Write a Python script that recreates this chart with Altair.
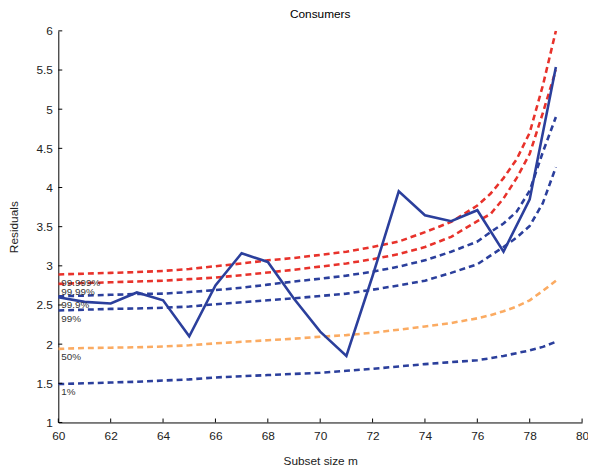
import altair as alt
import pandas as pd

# ---- data ----
m_solid = list(range(60, 80))
residuals = [2.60, 2.54, 2.52, 2.66, 2.56, 2.10, 2.75, 3.16, 3.05, 2.58,
             2.16, 1.85, 2.87, 3.95, 3.645, 3.57, 3.71, 3.18, 3.85, 5.54]

m_band = [60, 61, 62, 63, 64, 65, 66, 67, 68, 69, 70, 71, 72, 73, 74, 75, 76,
          76.5, 77, 77.5, 78, 78.5, 79]
b99999 = [2.89, 2.90, 2.91, 2.92, 2.935, 2.96, 2.995, 3.03, 3.07, 3.10, 3.14, 3.18,
          3.24, 3.31, 3.43, 3.56, 3.77, 3.92, 4.12, 4.36, 4.70, 5.30, 6.0]
b9999 = [2.77, 2.78, 2.79, 2.80, 2.81, 2.83, 2.85, 2.88, 2.915, 2.95, 2.99, 3.03,
         3.085, 3.15, 3.24, 3.37, 3.57, 3.66, 3.86, 4.12, 4.43, 4.95, 5.5]
b999 = [2.61, 2.62, 2.63, 2.64, 2.645, 2.665, 2.69, 2.72, 2.76, 2.80, 2.835, 2.875,
        2.925, 2.99, 3.07, 3.18, 3.31, 3.43, 3.54, 3.69, 3.96, 4.45, 4.9]
b99 = [2.43, 2.44, 2.45, 2.455, 2.465, 2.48, 2.51, 2.535, 2.56, 2.585, 2.615, 2.645,
       2.695, 2.75, 2.81, 2.91, 3.02, 3.13, 3.24, 3.36, 3.51, 3.80, 4.26]
b50 = [1.94, 1.95, 1.955, 1.96, 1.97, 1.985, 2.01, 2.03, 2.05, 2.07, 2.095, 2.115,
       2.145, 2.185, 2.225, 2.27, 2.33, 2.37, 2.42, 2.48, 2.56, 2.68, 2.81]
b1 = [1.49, 1.50, 1.51, 1.52, 1.535, 1.55, 1.575, 1.59, 1.605, 1.62, 1.635, 1.66,
      1.685, 1.715, 1.745, 1.77, 1.795, 1.82, 1.85, 1.885, 1.92, 1.965, 2.03]

band_labels = ["99.999%", "99.99%", "99.9%", "99%", "50%", "1%"]
band_series = [b99999, b9999, b999, b99, b50, b1]
band_colors = ["#e8322b", "#e8322b", "#2b3f9c", "#2b3f9c", "#fbab62", "#2b3f9c"]

x_ticks = list(range(60, 81, 2))
y_ticks = [1, 1.5, 2, 2.5, 3, 3.5, 4, 4.5, 5, 5.5, 6]

# ---- tables ----
band_rows = []
for lab, ser in zip(band_labels, band_series):
    for m, v in zip(m_band, ser):
        band_rows.append({"band": lab, "m": m, "v": v})
band_df = pd.DataFrame(band_rows)
solid_df = pd.DataFrame({"m": m_solid, "v": residuals})
label_df = pd.DataFrame({"band": band_labels, "m": [60] * 6, "v": [s[0] for s in band_series]})
xt_df = pd.DataFrame({"m": x_ticks})
yt_df = pd.DataFrame({"v": y_ticks})

W, H = 531, 397
FONT = "Liberation Sans"

xscale = alt.Scale(domain=[60, 80], nice=False)
yscale = alt.Scale(domain=[1, 6], nice=False)
xaxis = alt.Axis(values=x_ticks, title="Subset size m", format="d", labelFlush=False)
yaxis = alt.Axis(values=y_ticks, title="Residuals", format="~g", labelFlush=False)
X = alt.X("m:Q", scale=xscale, axis=xaxis)
Y = alt.Y("v:Q", scale=yscale, axis=yaxis)

bands = alt.Chart(band_df).mark_line(strokeWidth=2.6, strokeDash=[6, 4], clip=True).encode(
    x=X, y=Y,
    color=alt.Color("band:N", scale=alt.Scale(domain=band_labels, range=band_colors), legend=None),
    detail="band:N",
)

solid = alt.Chart(solid_df).mark_line(strokeWidth=2.6, color="#2b3f9c").encode(x=X, y=Y)

labels = alt.Chart(label_df).mark_text(
    align="left", baseline="middle", dx=3, dy=8.5, fontSize=10, font=FONT, color="#333333"
).encode(x=X, y=Y, text="band:N")

xt = alt.Chart(xt_df).mark_rule(color="black", strokeWidth=1).encode(
    x=X, y=alt.value(H), y2=alt.value(H - 4),
)
yt = alt.Chart(yt_df).mark_rule(color="black", strokeWidth=1).encode(
    y=Y, x=alt.value(0), x2=alt.value(4),
)

chart = alt.layer(bands, solid, labels, xt, yt).properties(
    width=W, height=H,
    title=alt.TitleParams("Consumers", fontSize=12, fontWeight="normal", font=FONT,
                          color="black", offset=4),
    autosize=alt.AutoSizeParams(type="none"),
    padding={"left": 51, "top": 20, "right": 6, "bottom": 45},
).configure_view(stroke=None).configure_axis(
    grid=False, ticks=False, tickSize=0, domainColor="black", domainWidth=1,
    labelFont=FONT, labelFontSize=12, labelColor="#222222",
    titleFont=FONT, titleFontSize=12, titleFontWeight="normal", titleColor="#222222",
).configure_axisX(labelPadding=8, titlePadding=15).configure_axisY(labelPadding=6, titlePadding=16)

chart.save("out.html", embed_options={"renderer": "svg", "actions": False})
